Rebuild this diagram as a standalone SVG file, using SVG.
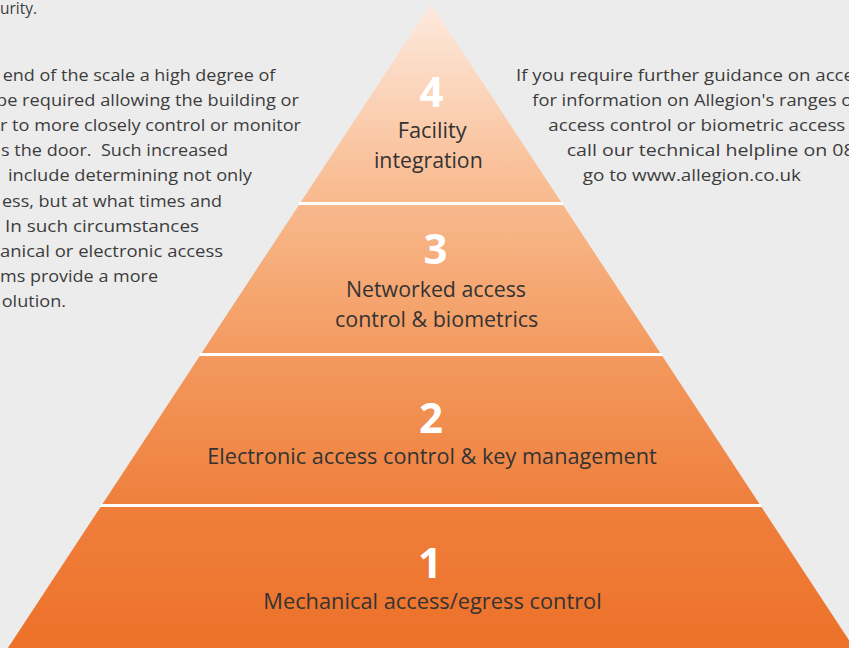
<svg xmlns="http://www.w3.org/2000/svg" width="849" height="648" viewBox="0 0 849 648">
  <style>
    .body { font-family: "Open Sans", "Noto Sans", "Liberation Sans", sans-serif; font-size: 17px; fill: #3c3c3c; }
    .lbl { font-family: "Open Sans", "Noto Sans", "Liberation Sans", sans-serif; font-size: 21px; fill: #333333; }
    .num { font-family: "Open Sans", "Noto Sans", "Liberation Sans", sans-serif; font-size: 42px; font-weight: bold; fill: #ffffff; text-anchor: middle; }
    .tier { fill: url(#pyr); }
    .sep { stroke: #ffffff; stroke-width: 3; fill: none; }
  </style>
  <defs>
    <linearGradient id="pyr" gradientUnits="userSpaceOnUse" x1="0" y1="4" x2="0" y2="648">
      <stop offset="0" stop-color="#fdeadf"/>
      <stop offset="0.28" stop-color="#f9bd93"/>
      <stop offset="0.54" stop-color="#f39a5f"/>
      <stop offset="0.78" stop-color="#ef7f3c"/>
      <stop offset="1" stop-color="#ed7129"/>
    </linearGradient>
  </defs>
  <rect x="0" y="0" width="849" height="648" fill="#ececec"/>

  <g id="left-text" class="body">
    <text x="0" y="14" textLength="37" lengthAdjust="spacingAndGlyphs">urity.</text>
    <text x="2.7" y="81" textLength="272.6" lengthAdjust="spacingAndGlyphs">end of the scale a high degree of</text>
    <text x="-4" y="106.1" textLength="303" lengthAdjust="spacingAndGlyphs">be required allowing the building or</text>
    <text x="0" y="131.2" textLength="301" lengthAdjust="spacingAndGlyphs">r to more closely control or monitor</text>
    <text x="1" y="156.3" textLength="227" lengthAdjust="spacingAndGlyphs" xml:space="preserve">s the door.  Such increased</text>
    <text x="8" y="181.4" textLength="244" lengthAdjust="spacingAndGlyphs">include determining not only</text>
    <text x="2" y="206.5" textLength="220" lengthAdjust="spacingAndGlyphs">ess, but at what times and</text>
    <text x="5" y="231.6" textLength="194" lengthAdjust="spacingAndGlyphs">In such circumstances</text>
    <text x="0" y="256.7" textLength="223" lengthAdjust="spacingAndGlyphs">anical or electronic access</text>
    <text x="0" y="281.8" textLength="158" lengthAdjust="spacingAndGlyphs">ms provide a more</text>
    <text x="1.7" y="306.9" textLength="64.3" lengthAdjust="spacingAndGlyphs">olution.</text>
  </g>

  <g id="right-text" class="body">
    <text x="516" y="80.8" textLength="338" lengthAdjust="spacingAndGlyphs">If you require further guidance on acce</text>
    <text x="532.3" y="106" textLength="320" lengthAdjust="spacingAndGlyphs">for information on Allegion's ranges o</text>
    <text x="548.3" y="131.1" textLength="297" lengthAdjust="spacingAndGlyphs">access control or biometric access</text>
    <text x="566.7" y="156.2" textLength="288" lengthAdjust="spacingAndGlyphs">call our technical helpline on 08</text>
    <text x="582.7" y="181.3" textLength="218.3" lengthAdjust="spacingAndGlyphs">go to www.allegion.co.uk</text>
  </g>

  <g id="tier4">
    <polygon class="tier" points="431,4 562.1,203.5 299.9,203.5"/>
    <text class="num" x="431.5" y="107.3">4</text>
    <text class="lbl" x="397.7" y="138.3" textLength="69" lengthAdjust="spacingAndGlyphs">Facility</text>
    <text class="lbl" x="374" y="168.4" textLength="108.7" lengthAdjust="spacingAndGlyphs">integration</text>
  </g>

  <g id="tier3">
    <polygon class="tier" points="299.9,203.5 562.1,203.5 661.3,354.5 200.7,354.5"/>
    <text class="num" x="435.5" y="264">3</text>
    <text class="lbl" x="346" y="296.7" textLength="180" lengthAdjust="spacingAndGlyphs">Networked access</text>
    <text class="lbl" x="335" y="326.7" textLength="203.3" lengthAdjust="spacingAndGlyphs">control &amp; biometrics</text>
  </g>

  <g id="tier2">
    <polygon class="tier" points="200.7,354.5 661.3,354.5 760.5,505.5 101.5,505.5"/>
    <text class="num" x="431" y="432.7">2</text>
    <text class="lbl" x="207.3" y="464" textLength="449.4" lengthAdjust="spacingAndGlyphs">Electronic access control &amp; key management</text>
  </g>

  <g id="tier1">
    <polygon class="tier" points="101.5,505.5 760.5,505.5 854.1,648 7.9,648"/>
    <text class="num" x="430" y="578.3">1</text>
    <text class="lbl" x="263.3" y="609" textLength="338.4" lengthAdjust="spacingAndGlyphs">Mechanical access/egress control</text>
  </g>

  <g id="connectors">
    <line class="sep" x1="298.9" y1="203.5" x2="563.1" y2="203.5"/>
    <line class="sep" x1="199.7" y1="354.5" x2="662.3" y2="354.5"/>
    <line class="sep" x1="100.5" y1="505.5" x2="761.5" y2="505.5"/>
  </g>
</svg>
